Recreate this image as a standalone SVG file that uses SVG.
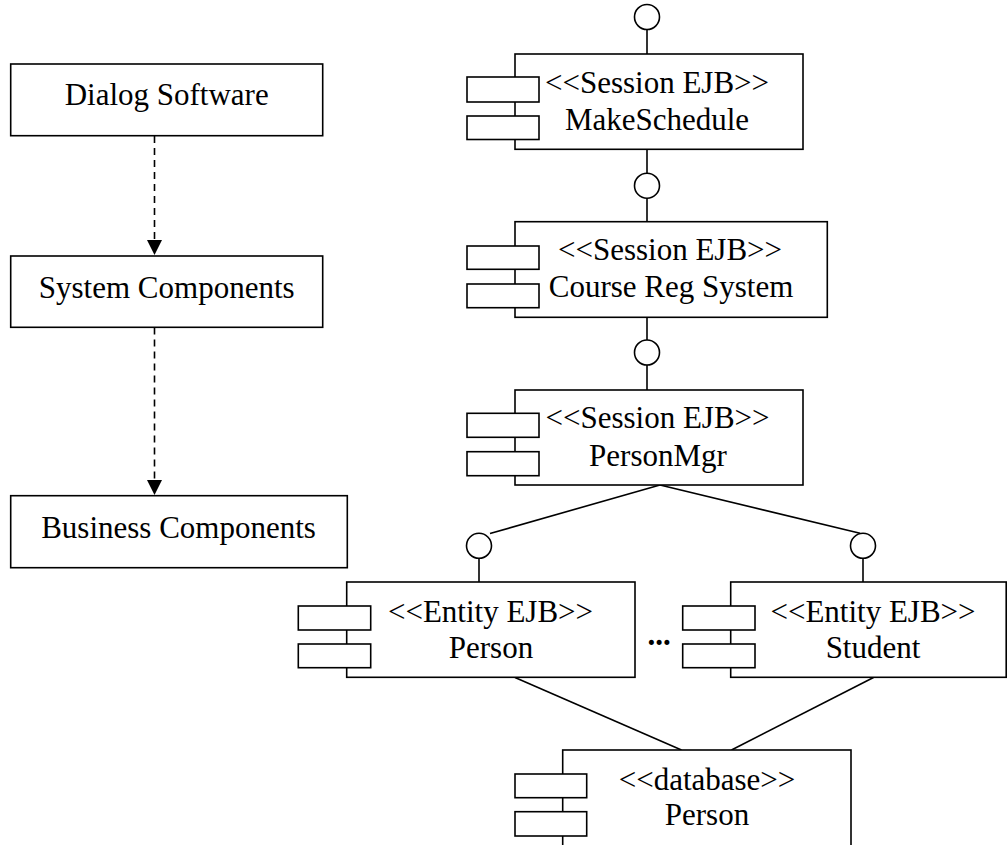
<svg xmlns="http://www.w3.org/2000/svg" width="1008" height="845" viewBox="0 0 1008 845">
<style>
.box{fill:#fff;stroke:#000;stroke-width:1.6}
.tab{fill:#fff;stroke:#000;stroke-width:1.6}
.ln{fill:none;stroke:#000;stroke-width:1.6}
.dash{fill:none;stroke:#000;stroke-width:1.6;stroke-dasharray:7 5}
.if{fill:#fff;stroke:#000;stroke-width:1.6}
text{font-family:"Liberation Serif","Times New Roman",serif;font-size:31px;fill:#000;text-anchor:middle}
</style>
<defs>
<marker id="arr" viewBox="0 0 15 15" refX="15" refY="7.5" markerWidth="15" markerHeight="15" markerUnits="userSpaceOnUse" orient="auto">
<path d="M0,0 L15,7.5 L0,15 Z" fill="#000"/>
</marker>
</defs>
<rect width="1008" height="845" fill="#fff"/>

<g id="connectors">
<line class="dash" x1="154.5" y1="136" x2="154.5" y2="255" marker-end="url(#arr)"/>
<line class="dash" x1="154.5" y1="327.5" x2="154.5" y2="495" marker-end="url(#arr)"/>
<line class="ln" x1="647" y1="29.5" x2="647" y2="54"/>
<line class="ln" x1="647" y1="149.5" x2="647" y2="173.2"/>
<line class="ln" x1="647" y1="198.2" x2="647" y2="222"/>
<line class="ln" x1="647" y1="317.5" x2="647" y2="340"/>
<line class="ln" x1="647" y1="365" x2="647" y2="390"/>
<line class="ln" x1="660" y1="485" x2="490" y2="533.5"/>
<line class="ln" x1="660" y1="485" x2="860" y2="533.3"/>
<line class="ln" x1="479" y1="558.3" x2="479" y2="582"/>
<line class="ln" x1="863" y1="558.3" x2="863" y2="582"/>
<line class="ln" x1="515" y1="677.5" x2="681.5" y2="750"/>
<line class="ln" x1="873.5" y1="677.5" x2="731.5" y2="750"/>
</g>

<g id="iface-top"><circle class="if" cx="647" cy="17" r="12.5"/></g>
<g id="iface-1"><circle class="if" cx="647" cy="185.7" r="12.5"/></g>
<g id="iface-2"><circle class="if" cx="647" cy="352.5" r="12.5"/></g>
<g id="iface-person"><circle class="if" cx="479" cy="545.8" r="12.5"/></g>
<g id="iface-student"><circle class="if" cx="863" cy="545.8" r="12.5"/></g>

<g id="dialog-software">
<rect class="box" x="10.7" y="64" width="312" height="71.7"/>
<text x="166.7" y="105">Dialog Software</text>
</g>
<g id="system-components">
<rect class="box" x="10.7" y="256" width="312" height="71.3"/>
<text x="166.7" y="298.3">System Components</text>
</g>
<g id="business-components">
<rect class="box" x="10.7" y="495.7" width="336.6" height="72"/>
<text x="178.5" y="538.3">Business Components</text>
</g>

<g id="make-schedule">
<rect class="box" x="515" y="54" width="288" height="95.3"/>
<rect class="tab" x="467" y="77" width="72" height="25"/>
<rect class="tab" x="467" y="116" width="72" height="23.5"/>
<text x="657" y="92.7">&lt;&lt;Session EJB&gt;&gt;</text>
<text x="657" y="130">MakeSchedule</text>
</g>
<g id="course-reg-system">
<rect class="box" x="515" y="221.7" width="312.3" height="95.6"/>
<rect class="tab" x="467" y="246" width="72" height="23.3"/>
<rect class="tab" x="467" y="284" width="72" height="23.7"/>
<text x="670" y="260">&lt;&lt;Session EJB&gt;&gt;</text>
<text x="671" y="296.7">Course Reg System</text>
</g>
<g id="person-mgr">
<rect class="box" x="515" y="390" width="288" height="95"/>
<rect class="tab" x="467" y="413.3" width="72" height="24"/>
<rect class="tab" x="467" y="451.7" width="72" height="24"/>
<text x="657.5" y="428.3">&lt;&lt;Session EJB&gt;&gt;</text>
<text x="658" y="465.7">PersonMgr</text>
</g>
<g id="entity-person">
<rect class="box" x="346.7" y="582" width="288.3" height="95.3"/>
<rect class="tab" x="298.3" y="606" width="72.4" height="24"/>
<rect class="tab" x="298.3" y="644" width="72.4" height="23.7"/>
<text x="490.5" y="621.7">&lt;&lt;Entity EJB&gt;&gt;</text>
<text x="491" y="657.7">Person</text>
</g>
<g id="ellipsis">
<text x="659" y="645" style="font-weight:bold">...</text>
</g>
<g id="entity-student">
<rect class="box" x="730.7" y="582" width="275.5" height="95.3"/>
<rect class="tab" x="682.7" y="606" width="72.3" height="24"/>
<rect class="tab" x="682.7" y="644" width="72.3" height="23.7"/>
<text x="873" y="621.7">&lt;&lt;Entity EJB&gt;&gt;</text>
<text x="873" y="657.7">Student</text>
</g>
<g id="database-person">
<rect class="box" x="562.7" y="750" width="288.3" height="110"/>
<rect class="tab" x="515" y="774" width="71.7" height="23.7"/>
<rect class="tab" x="515" y="811.7" width="71.7" height="24.3"/>
<text x="707" y="790">&lt;&lt;database&gt;&gt;</text>
<text x="707" y="825">Person</text>
</g>
</svg>
